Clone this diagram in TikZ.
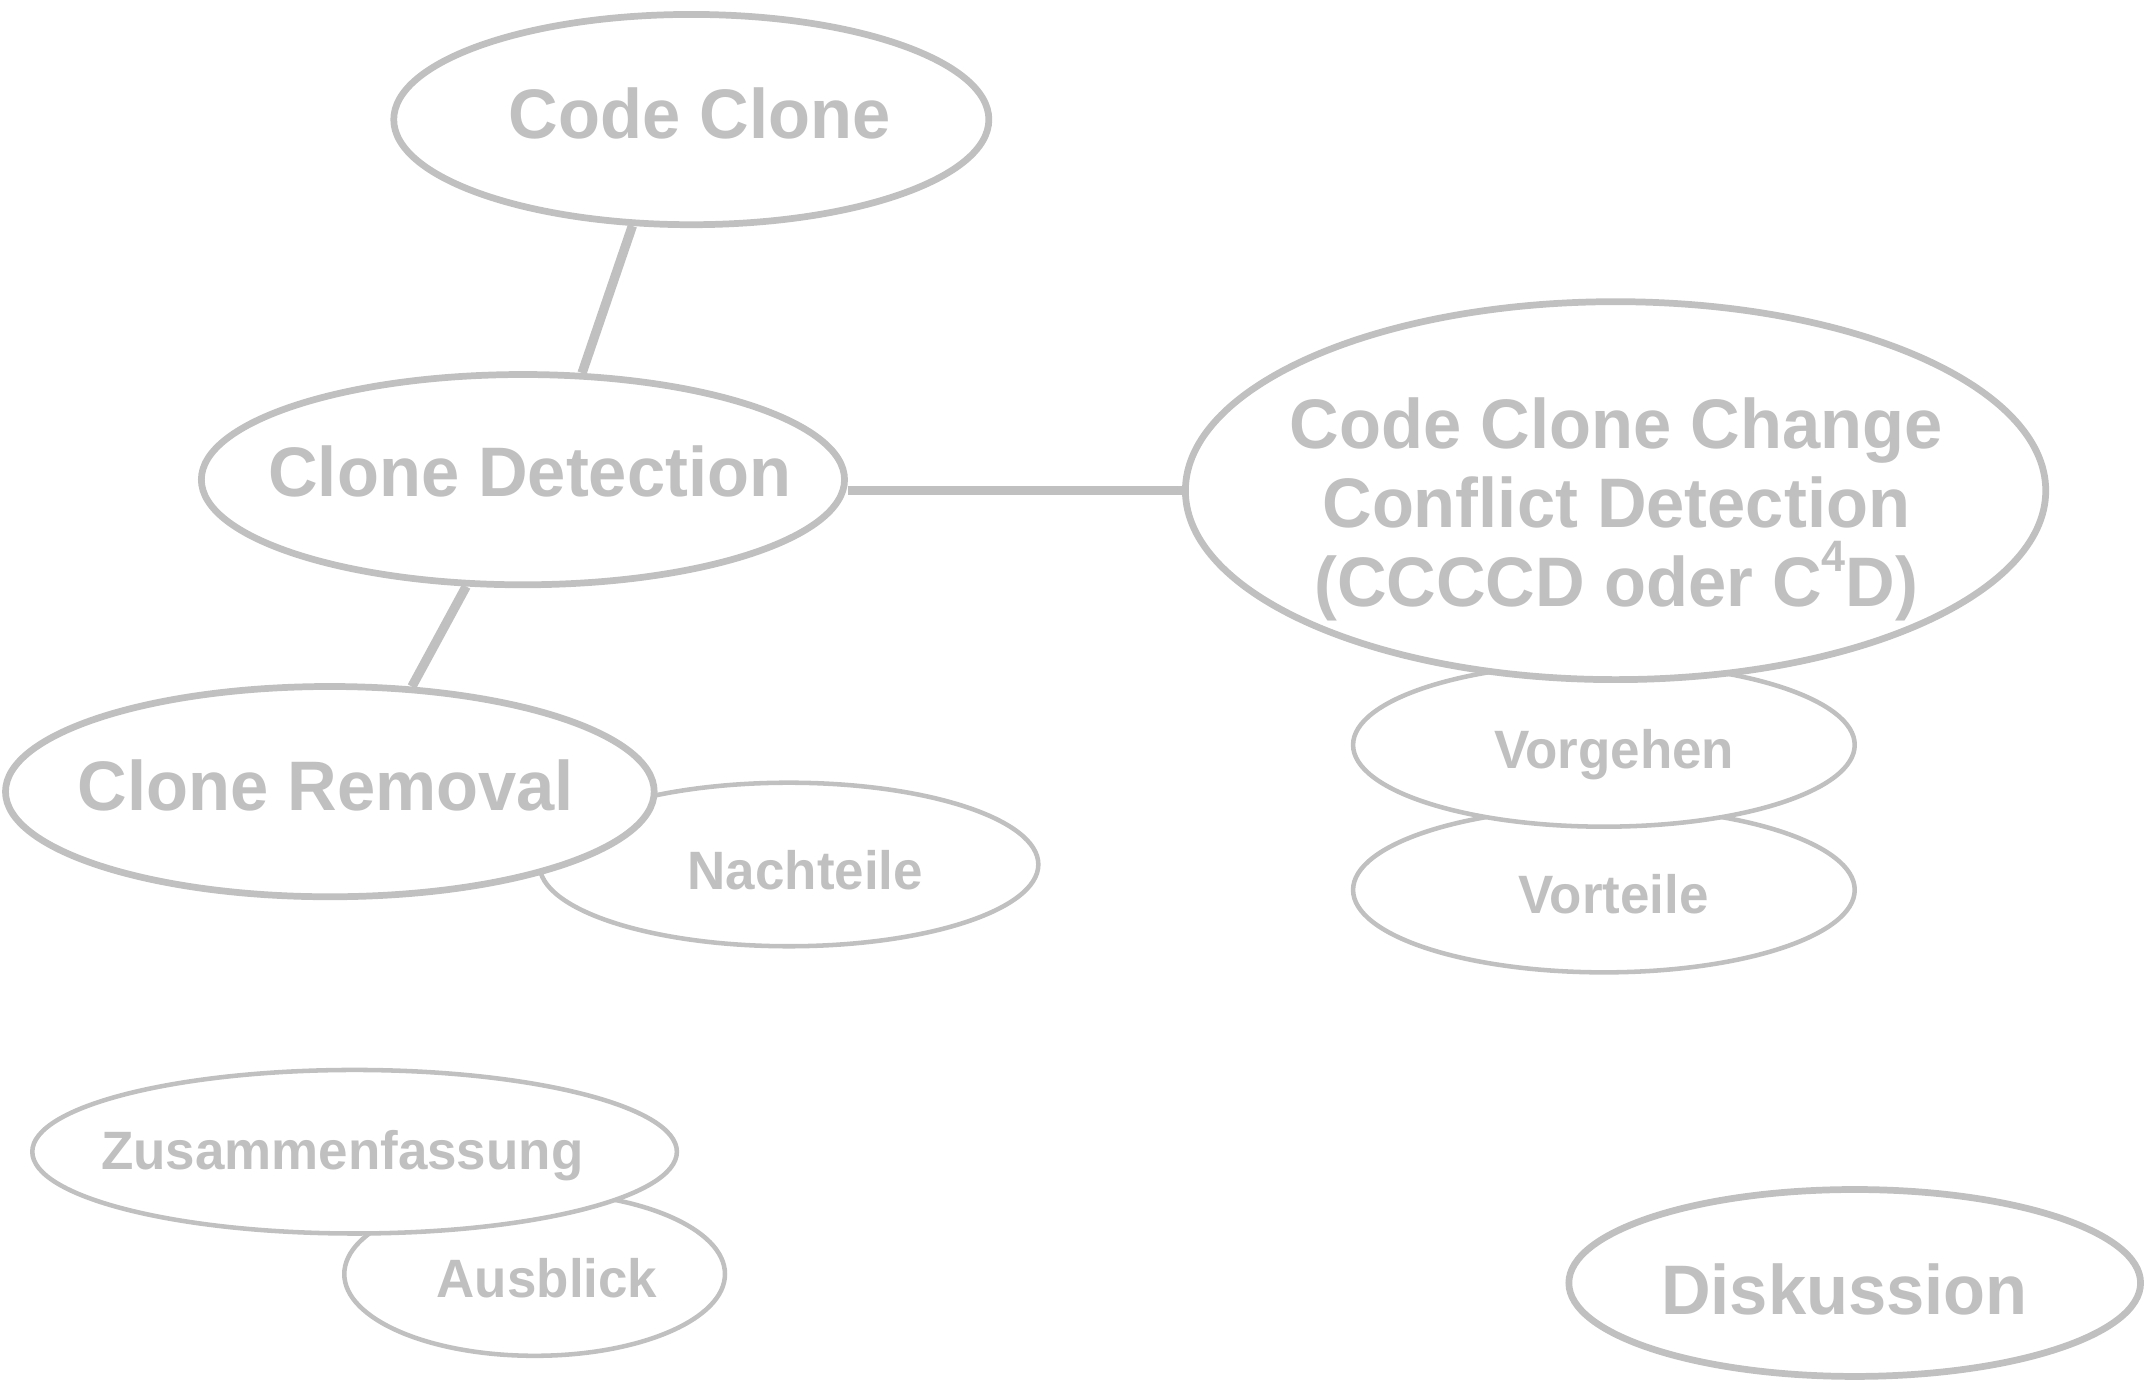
\documentclass[tikz,border=0pt]{standalone}
\usepackage{fontspec}
\setmainfont{Liberation Sans}[FakeStretch=0.98]
\usetikzlibrary{shapes.geometric}
\pgfdeclarelayer{bg}
\pgfsetlayers{bg,main}
\definecolor{cgray}{HTML}{C0C0C0}
\tikzset{
  bigell/.style={ellipse, draw=cgray, line width=4.9pt, fill=white, inner sep=0pt},
  smallell/.style={ellipse, draw=cgray, line width=3.3pt, fill=white, inner sep=0pt},
  bigtxt/.style={text=cgray, font=\fontsize{51}{57.5}\selectfont\bfseries, anchor=base, inner sep=0pt},
  smalltxt/.style={text=cgray, font=\fontsize{39.3}{44}\selectfont\bfseries, anchor=base, inner sep=0pt},
  link/.style={draw=cgray, line width=6.8pt},
}
\begin{document}
\begin{tikzpicture}[x=1pt,y=-1pt]
\useasboundingbox (0,0) rectangle (1568,1005.6);
% back ellipses first
\node[smallell, minimum width=365pt, minimum height=120pt] (vt) at (1167,647.5) {};
\node[smallell, minimum width=365pt, minimum height=119pt] (vg) at (1167,542) {};
\node[bigell, minimum width=626pt, minimum height=275pt] (ccd) at (1175.5,357) {};
\node[bigell, minimum width=433pt, minimum height=153pt] (cc) at (503,87) {};
\node[bigell, minimum width=468pt, minimum height=153pt] (cd) at (380.5,349) {};
\node[smallell, minimum width=363pt, minimum height=119pt] (nt) at (574,629) {};
\node[bigell, minimum width=472pt, minimum height=153pt] (cr) at (240,576) {};
\node[smallell, minimum width=277pt, minimum height=119pt] (ab) at (389,927) {};
\node[smallell, minimum width=469pt, minimum height=119pt] (zf) at (258,838) {};
\node[bigell, minimum width=416pt, minimum height=136pt] (dk) at (1349.5,933.5) {};
% connectors
\begin{pgfonlayer}{bg}
\draw[link] (cc.241) -- (cd.61);
\draw[link] (cd.242) -- (cr.52);
\draw[link] (ccd.west) -- (ccd.west -| cd.east);
\end{pgfonlayer}
% texts
\node[bigtxt] (tcc) at (509,100.5) {Code Clone};
\node[bigtxt] (tcd) at (385.5,361.5) {Clone Detection};
\node[bigtxt, align=center] (tccd) at (1176,441) {Code Clone Change\\Conflict Detection\\(CCCCD oder C\raisebox{25pt}{\fontsize{32}{32}\selectfont 4}D)};
\node[bigtxt] (tcr) at (237,589.5) {Clone Removal};
\node[bigtxt] (tdk) at (1342,956.5) {Diskussion};
\node[smalltxt] (tvg) at (1174.5,559) {Vorgehen};
\node[smalltxt] (tvt) at (1174,665) {Vorteile};
\node[smalltxt] (tnt) at (586,647) {Nachteile};
\node[smalltxt] (tzf) at (249,851) {Zusammenfassung};
\node[smalltxt] (tab) at (398,944) {Ausblick};
\end{tikzpicture}
\end{document}
